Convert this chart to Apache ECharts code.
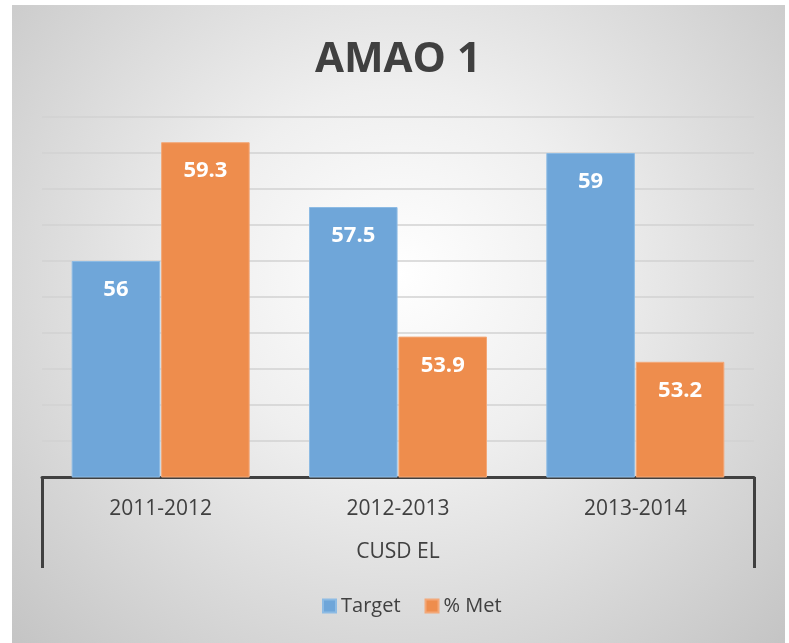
<!DOCTYPE html>
<html>
<head>
<meta charset="utf-8">
<script src="https://cdn.jsdelivr.net/npm/echarts@6/dist/echarts.min.js"></script>
<style>
  html, body { margin: 0; padding: 0; background: #fff; }
  #bg { position: absolute; left: 12px; top: 5px; width: 773px; height: 640px;
        background: radial-gradient(ellipse at 50% 42%, #ffffff 0%, #efefef 35%, #c4c4c4 100%); }
  #chart { position: absolute; left: 0; top: 0; width: 789px; height: 643px; }
</style>
</head>
<body>
<div id="bg"></div>
<div id="chart"></div>
<script>
// values
var years = ['2011-2012', '2012-2013', '2013-2014'];
var groupLabel = ['CUSD EL'];
var target = [56, 57.5, 59];
var met = [59.3, 53.9, 53.2];

var chart = echarts.init(document.getElementById('chart'));
var font = '"Open Sans", sans-serif';

var barLabel = {
  show: true,
  position: 'insideTop',
  distance: 18,
  color: '#fff',
  fontWeight: 'bold',
  fontSize: 22,
  fontFamily: font
};

chart.setOption({
  backgroundColor: 'transparent',
  title: {
    text: 'AMAO 1',
    left: 310,
    top: 34,
    textStyle: { fontFamily: font, fontWeight: 'bold', fontSize: 42, color: '#404040' }
  },
  legend: {
    bottom: 22,
    left: 317,
    icon: 'rect',
    itemWidth: 13,
    itemHeight: 13,
    itemGap: 24,
    textStyle: { fontFamily: font, fontSize: 20, color: '#404040' },
    data: ['Target', '% Met']
  },
  grid: { left: 42, right: 35, top: 117, bottom: 166 },
  xAxis: [{
    type: 'category',
    data: years,
    axisLine: { lineStyle: { color: '#404040', width: 3 } },
    axisTick: { show: false },
    axisLabel: { margin: 22, fontFamily: font, fontSize: 21, color: '#404040' }
  }, {
    type: 'category',
    data: groupLabel,
    position: 'bottom',
    axisLine: { show: false },
    axisTick: { show: true, length: 91, lineStyle: { color: '#404040', width: 3 } },
    axisLabel: { margin: 65, fontFamily: font, fontSize: 21, color: '#404040' }
  }],
  yAxis: {
    type: 'value',
    min: 50,
    max: 60,
    interval: 1,
    axisLabel: { show: false },
    axisLine: { show: false },
    axisTick: { show: false },
    splitLine: { lineStyle: { color: '#d2d2d2', width: 1.5 } }
  },
  series: [{
    name: 'Target',
    type: 'bar',
    data: target,
    barGap: '1%',
    barCategoryGap: '25%',
    itemStyle: { color: '#6fa6d9', borderColor: '#8dbbe4', borderWidth: 1 },
    label: barLabel
  }, {
    name: '% Met',
    type: 'bar',
    data: met,
    itemStyle: { color: '#ee8d4d', borderColor: '#f3a878', borderWidth: 1 },
    label: barLabel
  }]
});
</script>
</body>
</html>
